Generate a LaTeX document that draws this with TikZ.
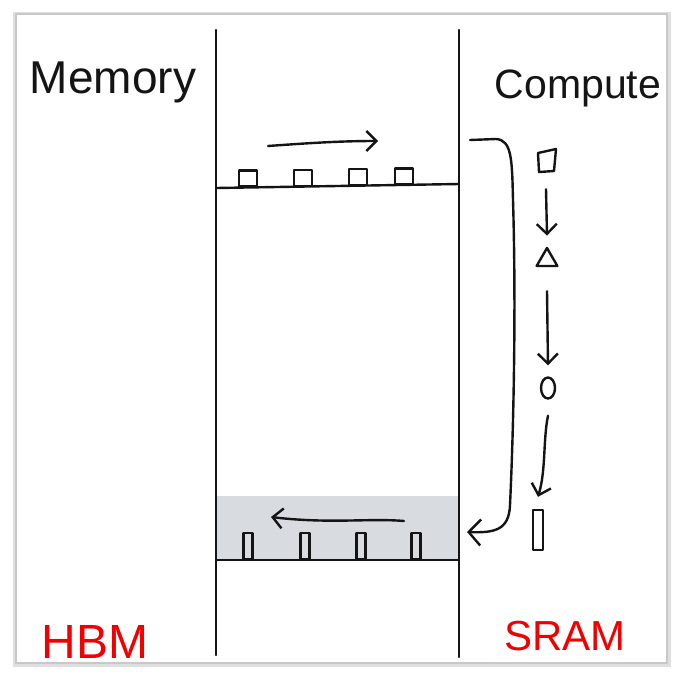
\documentclass[tikz,border=0pt]{standalone}
\usepackage{fontspec}
\setmainfont{Liberation Sans}
\usetikzlibrary{arrows.meta,shapes.geometric}
\definecolor{shadegray}{RGB}{216,220,224}
\definecolor{frameline}{RGB}{200,200,200}
\definecolor{hand}{RGB}{20,20,20}
\definecolor{redink}{RGB}{240,0,0}
\tikzset{
  ink/.style={draw=hand,line width=2.4pt,line cap=round,line join=round},
  barb/.style={-{Straight Barb[length=10pt,width=20pt,line width=2.4pt]}},
  sq/.style={ink,rectangle,minimum width=18pt,minimum height=16pt,inner sep=0pt,anchor=south},
  bar/.style={ink,rectangle,minimum width=9pt,minimum height=26pt,inner sep=0pt,anchor=south},
  blacklabel/.style={text=hand,inner sep=0pt},
  redlabel/.style={text=redink,inner sep=0pt},
}
\begin{document}
\begin{tikzpicture}[x=1pt,y=-1pt]
\useasboundingbox (0,0) rectangle (679,678);
% frame with shadow
\fill[gray!25] (13,12) rectangle (671,667);
\filldraw[fill=white,draw=frameline,line width=1.2pt] (16,14) rectangle (667,663);
% shaded region
\fill[shadegray] (216,496) rectangle (459,560);
% vertical lines
\coordinate (lt) at (216,30); \coordinate (lb) at (216,655);
\coordinate (rt) at (459,30); \coordinate (rb) at (459,657);
\draw[ink] (lt) -- (lb);
\draw[ink] (rt) -- (rb);
% horizontal lines
\coordinate (h1a) at (216,188); \coordinate (h1b) at (459,184);
\draw[ink] (h1a) -- (h1b);
\coordinate (h2a) at (216,560); \coordinate (h2b) at (459,560);
\draw[ink] (h2a) -- (h2b);
% top squares
\node[sq] (s1) at (248,187.5) {};
\node[sq] (s2) at (303,187) {};
\node[sq] (s3) at (358,186) {};
\node[sq] (s4) at (404,185.5) {};
% bottom bars
\node[bar] (b1) at (248,560) {};
\node[bar] (b2) at (305,560) {};
\node[bar] (b3) at (361,560) {};
\node[bar] (b4) at (416,560) {};
% top arrow
\coordinate (ta) at (268,146); \coordinate (tb) at (378,141);
\draw[ink,barb] (ta) .. controls (310,143) and (340,141) .. (tb);
% bottom arrow
\coordinate (ba) at (404,521); \coordinate (bb) at (271,517);
\draw[ink,barb] (ba) .. controls (370,518) and (330,524) .. (bb);
% bracket arrow
\coordinate (ka) at (470,140); \coordinate (kb) at (467,532);
\draw[ink,-{Straight Barb[length=12pt,width=26pt,line width=2.4pt]}] (ka) -- (496,139) .. controls (512,140) and (512,160) .. (513,200)
  .. controls (516,300) and (514,420) .. (510,505)
  .. controls (509,530) and (495,533) .. (kb);
% compute shapes
\node[rectangle,minimum width=18pt,minimum height=22pt,inner sep=0pt] (c1) at (546,162) {};
\draw[ink] (538,153) -- (556,149) -- (554,171) -- (539,172) -- cycle;
\node[ink,regular polygon,regular polygon sides=3,minimum size=24pt,inner sep=0pt] (c2) at (547,260) {};
\node[ink,ellipse,minimum width=14pt,minimum height=21pt,inner sep=0pt] (c3) at (548,388) {};
\node[ink,rectangle,minimum width=10pt,minimum height=40pt,inner sep=0pt] (c4) at (538,530) {};
\draw[ink,barb] ([yshift=-16pt]c1.south) -- ([yshift=10pt]c2.north);
\draw[ink,barb] ([yshift=-24pt]c2.south) -- ([yshift=11pt]c3.north);
\draw[ink,barb] ([yshift=-16pt]c3.south) .. controls (543,440) and (546,470) .. ([yshift=12pt]c4.north);
% labels
\node[blacklabel,font=\fontsize{46}{48}\selectfont] (mem) at (113,82) {Memory};
\node[blacklabel,font=\fontsize{41}{43}\selectfont] (cmp) at (578,88) {Compute};
\node[redlabel,font=\fontsize{48}{50}\selectfont] (hbm) at (95,642) {HBM};
\node[redlabel,font=\fontsize{42}{44}\selectfont] (sram) at (565,636) {SRAM};
\end{tikzpicture}
\end{document}
